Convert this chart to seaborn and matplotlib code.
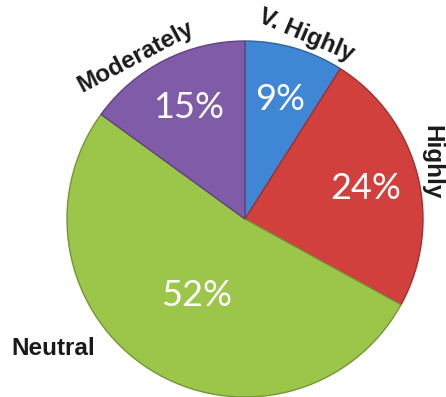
import matplotlib
matplotlib.use("Agg")
import matplotlib.pyplot as plt
import seaborn as sns
import numpy as np

# Survey response shares
categories = ["V. Highly", "Highly", "Neutral", "Moderately"]
shares = [9, 24, 52, 15]
slice_colors = ["#3f86d4", "#d2403e", "#9cc64a", "#7f5ba8"]

sns.set_theme(style="white")
plt.rcParams["font.family"] = ["Lato", "DejaVu Sans"]

W, H = 446, 397
fig = plt.figure(figsize=(W / 100, H / 100), dpi=100)
ax = fig.add_axes([0, 0, 1, 1])

cx, cy, r = 245, H - 219, 178
palette = sns.color_palette(slice_colors)
edge_cols = [tuple(c * 0.75 for c in col) for col in palette]

wedges, _, pct_texts = ax.pie(
    shares,
    colors=palette,
    startangle=90,
    counterclock=False,
    center=(cx, cy),
    radius=r,
    autopct="%d%%",
    pctdistance=0.70,
    wedgeprops=dict(linewidth=1.0),
    textprops=dict(color="white", fontsize=26),
)
for w, ec in zip(wedges, edge_cols):
    w.set_edgecolor(ec)

# pull the large slice's percentage closer to the centre
for w, t, name in zip(wedges, pct_texts, categories):
    if name == "Neutral":
        mid = np.deg2rad((w.theta1 + w.theta2) / 2)
        t.set_position((cx + 0.51 * r * np.cos(mid), cy + 0.51 * r * np.sin(mid)))

# category labels placed around the rim
label_angle = {"V. Highly": 71.5, "Highly": 17, "Neutral": -146, "Moderately": 124}
label_dist = {"V. Highly": 1.09, "Highly": 1.095, "Neutral": 1.30, "Moderately": 1.10}
label_rot = {"V. Highly": -23, "Highly": -90, "Neutral": 0, "Moderately": 28}
for name in categories:
    a = np.deg2rad(label_angle[name])
    d = label_dist[name] * r
    ax.text(cx + d * np.cos(a), cy + d * np.sin(a), name,
            ha="center", va="center", rotation=label_rot[name],
            rotation_mode="anchor", fontsize=17.5, fontweight="bold",
            color="#1a1a1a", family=["Liberation Sans", "DejaVu Sans"])

ax.set_xlim(0, W)
ax.set_ylim(0, H)
ax.set_aspect("equal")
ax.axis("off")
fig.savefig("out.png", dpi=100, facecolor="white")
